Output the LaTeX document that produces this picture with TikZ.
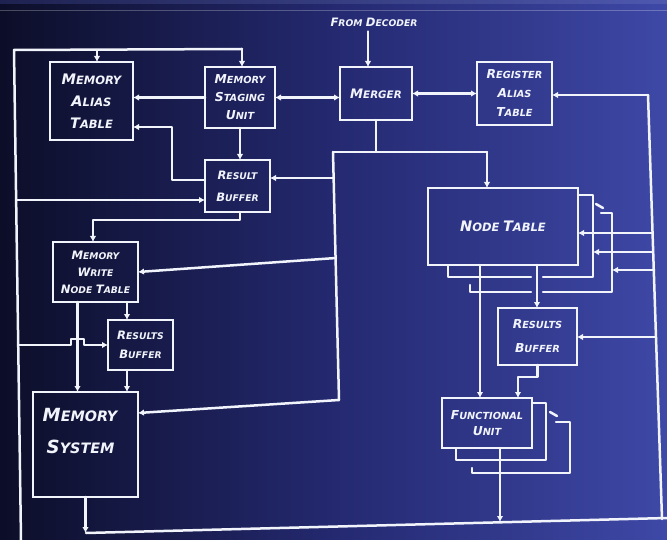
\documentclass[tikz,border=0pt]{standalone}
\usepackage{fontspec}
\setmainfont{DejaVu Sans}
\usetikzlibrary{arrows.meta}
\definecolor{bgA}{RGB}{12,14,40}
\definecolor{bgB}{RGB}{36,41,112}
\definecolor{bgC}{RGB}{62,72,166}
\definecolor{bandA}{RGB}{30,34,80}
\definecolor{bandB}{RGB}{78,88,175}
\definecolor{chalk}{RGB}{242,244,252}
\newcommand\hw[3][1]{{\fontsize{\fpeval{14.5*#1}}{1}\selectfont #2}{\fontsize{\fpeval{11.5*#1}}{1}\selectfont #3}}
\begin{document}
\begin{tikzpicture}[x=1pt,y=-1pt,
  wire/.style={draw=chalk,line width=2.5pt,line cap=round,line join=round},
  arr/.style={wire,-{Latex[length=6pt,width=6.5pt]}},
  biarr/.style={wire,{Latex[length=6pt,width=6.5pt]}-{Latex[length=6pt,width=6.5pt]}},
  blk/.style={draw=chalk,line width=2.5pt,inner sep=0pt,outer sep=0pt,text=chalk,align=center,
    font=\bfseries\itshape\fontsize{10}{#1}\selectfont},
  lbl/.style={text=chalk,inner sep=0pt,align=left,font=\bfseries\itshape\fontsize{10}{#1}\selectfont}]
\useasboundingbox (0,0) rectangle (667,540);
\shade[left color=bgA,right color=bgC,middle color=bgB] (0,0) rectangle (667,540);
\shade[left color=bandA,right color=bandB] (0,0) rectangle (667,4);
\draw[white,opacity=.25,line width=.8pt] (0,10.5) -- (667,10.5);

% blocks
\node[blk=22,minimum width=83pt,minimum height=78pt] (mat) at (91.5,101) {\hw{M}{EMORY}\\\hw{A}{LIAS}\\\hw{T}{ABLE}};
\node[blk=18,minimum width=70pt,minimum height=61pt] (msu) at (240,97.5) {\hw[.85]{M}{EMORY}\\\hw[.85]{S}{TAGING}\\\hw[.85]{U}{NIT}};
\node[blk=18,minimum width=72pt,minimum height=53pt] (merger) at (376,93.5) {\hw[.9]{M}{ERGER}};
\node[blk=19,minimum width=75pt,minimum height=63pt] (rat) at (514.5,93.5) {\hw[.85]{R}{EGISTER}\\\hw[.85]{A}{LIAS}\\\hw[.85]{T}{ABLE}};
\node[blk=22,minimum width=65pt,minimum height=52pt] (rb1) at (237.5,186) {\hw[.8]{R}{ESULT}\\\hw[.8]{B}{UFFER}};
\node[blk=20,minimum width=150pt,minimum height=77pt] (nt) at (503,226.5) {\hw{N}{ODE} \hw{T}{ABLE}};
\node[blk=24,minimum width=79pt,minimum height=57pt] (rb2) at (537.5,336.5) {\hw[.85]{R}{ESULTS}\\\hw[.85]{B}{UFFER}};
\node[blk=16,minimum width=90pt,minimum height=50pt] (fu) at (487,423) {\hw[.85]{F}{UNCTIONAL}\\\hw[.85]{U}{NIT}};
\node[blk=17,minimum width=85pt,minimum height=60pt] (mwnt) at (95.5,272) {\hw[.8]{M}{EMORY}\\\hw[.8]{W}{RITE}\\\hw[.8]{N}{ODE} \hw[.8]{T}{ABLE}};
\node[blk=19,minimum width=65pt,minimum height=50pt] (rb3) at (140.5,345) {\hw[.8]{R}{ESULTS}\\\hw[.8]{B}{UFFER}};
\node[blk=20,minimum width=105pt,minimum height=105pt] (ms) at (85.5,444.5) {};
\node[lbl=32] (mstext) at (80,431) {\hw[1.25]{M}{EMORY}\\[0pt]\hspace*{4pt}\hw[1.25]{S}{YSTEM}};
\node[text=chalk,inner sep=0pt,font=\bfseries\itshape] (dec) at (374,22) {\hw[.8]{F}{ROM} \hw[.8]{D}{ECODER}};

% stacked copies of node table
\draw[wire] (578,195) -- (593,195) -- (593,277) -- (543,277);
\draw[wire] (531,277) -- (448,277) -- (448,266);
\draw[wire] (596,204) -- (603,208);
\draw[wire] (601,213) -- (612,213) -- (612,292) -- (543,292);
\draw[wire] (531,292) -- (470,292) -- (470,285);
% stacked copies of functional unit
\draw[wire] (533,403) -- (546,403) -- (546,460) -- (456,460) -- (456,449);
\draw[wire] (550,412) -- (557,416);
\draw[wire] (556,422) -- (570,422) -- (570,473) -- (472,473) -- (472,468);

% top loop and left rail
\coordinate (lt) at (14,50);
\coordinate (lb) at (21,540);
\coordinate (tr) at (242,49);
\coordinate (tm) at (97,50);
\draw[wire] (lb) -- (lt) -- (tr);
\draw[arr] (tr) -- (tr |- msu.north);
\draw[arr] (tm) -- (tm |- mat.north);

% top row
\draw[arr] (msu.west) -- (msu.west -| mat.east);
\draw[biarr] (msu.east) -- (msu.east -| merger.west);
\draw[biarr] (merger.east) -- (merger.east -| rat.west);
\draw[arr] ([xshift=-6pt,yshift=-5pt]dec.south) -- ([xshift=-6pt]dec.south |- merger.north);

% right rail
\coordinate (rt) at (648,95);
\coordinate (rbt) at (662,519);
\draw[wire] (rt) -- (rbt);
\draw[arr] (rt) -- (rt -| rat.east);

% staging unit / result buffer
\draw[arr] (msu.south) -- (msu.south |- rb1.north);
\draw[arr] ([yshift=6pt]rb1.west) -| ([xshift=39pt,yshift=-26pt]mat.east) -- ([yshift=-26pt]mat.east);
\coordinate (l1) at (16,200);
\draw[arr] (l1) -- (l1 -| rb1.west);

% merger trunk
\coordinate (jl) at (333,152);
\coordinate (jr) at (487,152);
\coordinate (jb) at (339,400);
\draw[wire] (merger.south) -- (merger.south |- jl);
\draw[wire] (jl) -- (jr);
\draw[arr] (jr) -- (jr |- nt.north);
\draw[wire] (jl) -- (jb);
\coordinate (t1) at (334,178);
\draw[arr] (t1) -- (t1 -| rb1.east);
\coordinate (t2) at (336,258);
\draw[arr] (t2) -- (mwnt.east);
\draw[arr] (jb) -- ([yshift=31.5pt]ms.east);

% memory side
\draw[arr] ([xshift=2.5pt]rb1.south) -- ++(0,8) -| ([xshift=-2.5pt]mwnt.north);
\draw[arr] ([xshift=31.5pt]mwnt.south) -- ([xshift=31.5pt]mwnt.south |- rb3.north);
\draw[arr] ([xshift=-18pt]mwnt.south) -- ([xshift=-18pt]mwnt.south |- ms.north);
\draw[arr] ([xshift=-13.5pt]rb3.south) -- ([xshift=-13.5pt]rb3.south |- ms.north);
\coordinate (l2) at (18,345);
\draw[arr] (l2) -- (71,345) -- (71,339) -- (84,339) -- (84,345) -- (rb3.west);

% bottom rail
\coordinate (bl) at (86,533);
\coordinate (br) at (667,518);
\draw[wire] (bl) -- (br);
\draw[arr] (ms.south) -- (ms.south |- bl);

% execution side
\draw[arr] ([xshift=-23pt]nt.south) -- ([xshift=-23pt]nt.south |- fu.north);
\draw[arr] ([xshift=34pt]nt.south) -- ([xshift=34pt]nt.south |- rb2.north);
\draw[arr] (rb2.south) -- ++(0,12) -| ([xshift=31pt]fu.north);
\draw[arr] ([xshift=13pt]fu.south) -- ++(0,74);
\coordinate (r1) at (655,337);
\draw[arr] (r1) -- (r1 -| rb2.east);
\coordinate (r2) at (652,233);
\coordinate (r3) at (653,252);
\coordinate (r4) at (654,270);
\coordinate (n2) at (593,252);
\coordinate (n3) at (612,270);
\draw[arr] (r2) -- (r2 -| nt.east);
\draw[arr] (r3) -- (n2);
\draw[arr] (r4) -- (n3);
\end{tikzpicture}
\end{document}
